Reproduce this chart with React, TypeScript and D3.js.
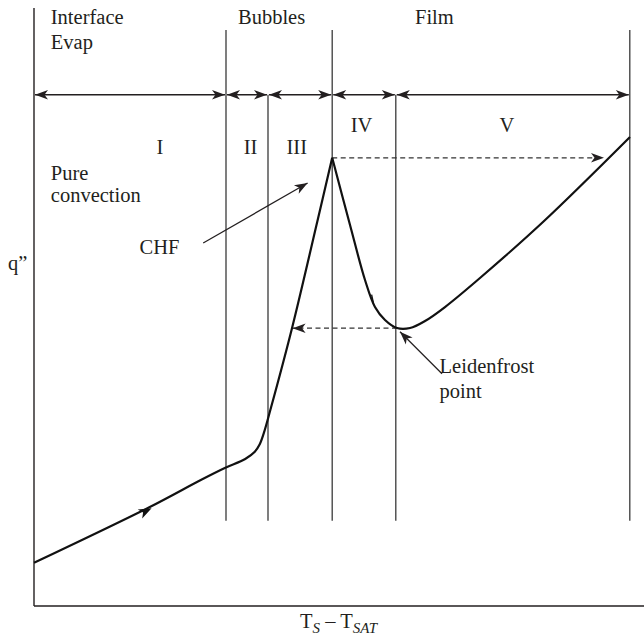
import { useEffect, useRef } from "react";
import * as d3 from "d3";

const WIDTH = 644;
const HEIGHT = 641;
const FONT = "'Liberation Serif', 'DejaVu Serif', serif";
const INK = "#231f20";

// regime boundaries along the ΔT axis (0..100 units)
const boundaries = [32, 39, 49.7, 60.3, 99.3];
const tallBoundaries = [32, 49.7, 99.3];
const regimeLabels = ["I", "II", "III", "IV", "V"];
const regimeLabelX = [21, 36.1, 43.8, 54.6, 78.8];
const regimeLabelY = [75.3, 75.3, 75.3, 79, 79];

// boiling curve, rising part (q" units 0..100)
const risingX = [0, 19.3, 27.8, 31.8, 35.2, 36.8, 37.6, 38.3, 39.4, 43, 47.2, 49.7];
const risingY = [7.2, 16.5, 21, 23, 24.5, 25.7, 26.9, 28.8, 32.7, 46.3, 64, 74.7];
// falling / film part
const fallingX = [49.7, 52.67, 55.17, 56.83, 58.5, 60.5, 62.67, 65.17, 68.5, 74.33, 84.83, 99.33];
const fallingY = [74.7, 63.5, 54.33, 49.83, 47.67, 46.33, 46.33, 47.5, 49.83, 54.67, 64, 78.17];

type Pt = [number, number];

export default function App() {
  const svgRef = useRef<SVGSVGElement | null>(null);

  useEffect(() => {
    if (!svgRef.current) return;
    const svg = d3.select(svgRef.current);
    svg.selectAll("*").remove();

    const x = d3.scaleLinear().domain([0, 100]).range([34, 634]);
    const y = d3.scaleLinear().domain([0, 100]).range([606, 6]);

    const defs = svg.append("defs");
    defs
      .append("marker")
      .attr("id", "barb")
      .attr("viewBox", "-14 -6 16 12")
      .attr("refX", 0)
      .attr("refY", 0)
      .attr("markerWidth", 16)
      .attr("markerHeight", 12)
      .attr("markerUnits", "userSpaceOnUse")
      .attr("orient", "auto-start-reverse")
      .append("path")
      .attr("d", "M0,0 L-13,-4.8 L-9.5,0 L-13,4.8 Z")
      .attr("fill", INK);

    // axes
    svg
      .append("line")
      .attr("x1", x(0))
      .attr("x2", x(0))
      .attr("y1", 8)
      .attr("y2", y(0))
      .attr("stroke", INK)
      .attr("stroke-width", 1.4);
    svg
      .append("line")
      .attr("x1", x(0))
      .attr("x2", WIDTH)
      .attr("y1", y(0))
      .attr("y2", y(0))
      .attr("stroke", INK)
      .attr("stroke-width", 1.4);

    // regime boundaries
    const arrowY = y(85.2);
    svg
      .selectAll("line.bound")
      .data(boundaries)
      .enter()
      .append("line")
      .attr("class", "bound")
      .attr("x1", (d) => x(d))
      .attr("x2", (d) => x(d))
      .attr("y1", (d) => (tallBoundaries.includes(d) ? 30 : arrowY))
      .attr("y2", y(14.2))
      .attr("stroke", "#3a3a3a")
      .attr("stroke-width", 1.3);

    // double-headed span arrows
    const edges = [0, ...boundaries];
    svg
      .selectAll("line.span")
      .data(d3.pairs(edges))
      .enter()
      .append("line")
      .attr("class", "span")
      .attr("x1", (d) => x(d[0]) + 1)
      .attr("x2", (d) => x(d[1]) - 1)
      .attr("y1", arrowY)
      .attr("y2", arrowY)
      .attr("stroke", INK)
      .attr("stroke-width", 1.4)
      .attr("marker-start", "url(#barb)")
      .attr("marker-end", "url(#barb)");

    // dashed return paths
    const dashed = [
      { from: [49.7, 74.7], to: [95, 74.7] },
      { from: [60.5, 46.3], to: [43.1, 46.3] },
    ];
    svg
      .selectAll("line.dash")
      .data(dashed)
      .enter()
      .append("line")
      .attr("class", "dash")
      .attr("x1", (d) => x(d.from[0]))
      .attr("x2", (d) => x(d.to[0]))
      .attr("y1", (d) => y(d.from[1]))
      .attr("y2", (d) => y(d.to[1]))
      .attr("stroke", "#333")
      .attr("stroke-width", 1.3)
      .attr("stroke-dasharray", "5,3.5")
      .attr("marker-end", "url(#barb)");

    // boiling curve
    const line = d3
      .line<Pt>()
      .x((d) => x(d[0]))
      .y((d) => y(d[1]))
      .curve(d3.curveCatmullRom.alpha(0.5));
    const rising: Pt[] = risingX.map((v, i) => [v, risingY[i]]);
    const falling: Pt[] = fallingX.map((v, i) => [v, fallingY[i]]);
    [rising, falling].forEach((pts) => {
      svg
        .append("path")
        .attr("d", line(pts))
        .attr("fill", "none")
        .attr("stroke", "#111")
        .attr("stroke-width", 2.2)
        .attr("stroke-linejoin", "miter");
    });

    // direction arrow on the convection branch
    const a0 = rising[0];
    const a1 = rising[2];
    const ang = (Math.atan2(y(a1[1]) - y(a0[1]), x(a1[0]) - x(a0[0])) * 180) / Math.PI;
    svg
      .append("path")
      .attr("d", "M0,0 L-13,-5 L-9.5,0 L-13,5 Z")
      .attr("fill", "#111")
      .attr(
        "transform",
        `translate(${x(19.6)},${y(16.1 + 0.2)}) rotate(${ang})`,
      );

    // small barb on the falling branch
    svg
      .append("path")
      .attr("d", `M${x(56.6)},${y(50.4)} l-2,-9`)
      .attr("stroke", "#111")
      .attr("stroke-width", 1.3)
      .attr("fill", "none");

    // pointer arrows
    const pointers = [
      { from: [28.2, 60.5], to: [45.6, 70.5] },
      { from: [68, 38.7], to: [61, 45.7] },
    ];
    svg
      .selectAll("line.ptr")
      .data(pointers)
      .enter()
      .append("line")
      .attr("class", "ptr")
      .attr("x1", (d) => x(d.from[0]))
      .attr("x2", (d) => x(d.to[0]))
      .attr("y1", (d) => y(d.from[1]))
      .attr("y2", (d) => y(d.to[1]))
      .attr("stroke", INK)
      .attr("stroke-width", 1.3)
      .attr("marker-end", "url(#barb)");

    // texts
    const texts = [
      { t: "Interface", x: 2.8, y: 97 },
      { t: "Evap", x: 2.8, y: 92.8 },
      { t: "Bubbles", x: 34, y: 97 },
      { t: "Film", x: 63.5, y: 97 },
      { t: "Pure", x: 2.8, y: 71 },
      { t: "convection", x: 2.8, y: 67.3 },
      { t: "CHF", x: 17.6, y: 58.7 },
      { t: "Leidenfrost", x: 67.6, y: 38.8 },
      { t: "point", x: 67.6, y: 34.6 },
    ];
    svg
      .selectAll("text.lbl")
      .data(texts)
      .enter()
      .append("text")
      .attr("class", "lbl")
      .attr("x", (d) => x(d.x))
      .attr("y", (d) => y(d.y))
      .attr("fill", INK)
      .style("font-family", FONT)
      .style("font-size", "20.5px")
      .text((d) => d.t);

    svg
      .selectAll("text.reg")
      .data(regimeLabels)
      .enter()
      .append("text")
      .attr("class", "reg")
      .attr("x", (_d, i) => x(regimeLabelX[i]))
      .attr("y", (_d, i) => y(regimeLabelY[i]))
      .attr("text-anchor", "middle")
      .attr("fill", INK)
      .style("font-family", FONT)
      .style("font-size", "20.5px")
      .text((d) => d);

    // axis titles
    svg
      .append("text")
      .attr("x", 8)
      .attr("y", y(56))
      .attr("fill", INK)
      .style("font-family", FONT)
      .style("font-size", "20.5px")
      .text("q\u201D");

    const xt = svg
      .append("text")
      .attr("x", 300)
      .attr("y", 628)
      .attr("fill", INK)
      .style("font-family", FONT)
      .style("font-size", "20.5px");
    xt.append("tspan").text("T");
    xt.append("tspan")
      .attr("dy", 5)
      .style("font-style", "italic")
      .style("font-size", "15px")
      .text("S");
    xt.append("tspan").attr("dy", -5).text(" \u2013 T");
    xt.append("tspan")
      .attr("dy", 5)
      .style("font-style", "italic")
      .style("font-size", "15px")
      .text("SAT");
  }, []);

  return (
    <svg
      ref={svgRef}
      width={WIDTH}
      height={HEIGHT}
      style={{ position: "absolute", left: 0, top: 0, background: "#fff" }}
    />
  );
}
